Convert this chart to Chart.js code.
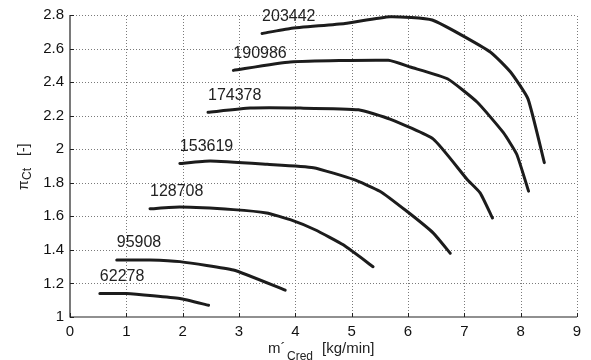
<!DOCTYPE html>
<html><head><meta charset="utf-8">
<script src="https://cdn.jsdelivr.net/npm/chart.js@4"></script>
<style>html,body{margin:0;padding:0;background:#fff}canvas{display:block}</style>
</head><body>
<canvas id="c" width="591" height="360"></canvas>
<script>
const speedLabels = ['203442','190986','174378','153619','128708','95908','62278'];
const m203442 = [3.41,3.91,4.88,5.68,6.43,7.46,7.82,8.13,8.42];
const p203442 = [2.69,2.72,2.75,2.79,2.77,2.58,2.46,2.30,1.92];
const m190986 = [2.90,3.91,5.65,6.04,6.70,7.23,7.69,7.93,8.14];
const p190986 = [2.47,2.52,2.53,2.49,2.42,2.28,2.10,1.97,1.75];
const m174378 = [2.45,3.20,4.09,5.12,5.68,6.45,7.05,7.28,7.50];
const p174378 = [2.22,2.245,2.245,2.235,2.18,2.06,1.82,1.74,1.59];
const m153619 = [1.95,2.49,3.50,4.32,5.03,5.50,5.98,6.45,6.75];
const p153619 = [1.915,1.93,1.91,1.89,1.82,1.75,1.63,1.50,1.38];
const m128708 = [1.42,1.95,2.90,3.49,3.91,4.35,4.85,5.38];
const p128708 = [1.645,1.655,1.64,1.62,1.58,1.52,1.43,1.30];
const m95908 = [0.83,1.42,1.95,2.90,3.82];
const p95908 = [1.34,1.34,1.33,1.28,1.16];
const m62278 = [0.53,1.00,1.95,2.46];
const p62278 = [1.14,1.14,1.11,1.07];
const xTicks = [0,1,2,3,4,5,6,7,8,9];
const yTicks = [1,1.2,1.4,1.6,1.8,2,2.2,2.4,2.6,2.8];

const curves = [[m203442,p203442],[m190986,p190986],[m174378,p174378],[m153619,p153619],[m128708,p128708],[m95908,p95908],[m62278,p62278]];
const datasets = curves.map((c,i)=>({
  label: speedLabels[i],
  data: c[0].map((x,j)=>({x:x,y:c[1][j]})),
  showLine: true, borderColor:'#1c1c1c', borderWidth:3, pointRadius:0, tension:0.15, fill:false,
  borderCapStyle:'round', borderJoinStyle:'round'
}));

const FONT = '"Liberation Sans", Arial, sans-serif';
const overlay = {
  id:'overlay',
  beforeDatasetsDraw(chart){
    const ctx = chart.ctx, xs = chart.scales.x, ys = chart.scales.y, a = chart.chartArea;
    ctx.save();
    ctx.strokeStyle = '#7a7a7a'; ctx.lineWidth = 1; ctx.setLineDash([1,2]);
    xs.ticks.forEach(t=>{ if(t.value===0) return; const px=Math.round(xs.getPixelForValue(t.value))+0.5; ctx.beginPath(); ctx.moveTo(px,a.bottom); ctx.lineTo(px,a.top); ctx.stroke();});
    ys.ticks.forEach(t=>{ if(t.value===1) return; const py=Math.round(ys.getPixelForValue(t.value))+0.5; ctx.beginPath(); ctx.moveTo(a.left,py); ctx.lineTo(a.right,py); ctx.stroke();});
    ctx.restore();
  },
  afterDraw(chart){
    const ctx = chart.ctx, xs = chart.scales.x, ys = chart.scales.y, a = chart.chartArea;
    ctx.save();
    ctx.setLineDash([]);
    // axes lines
    ctx.strokeStyle = '#222'; ctx.lineWidth = 1.2;
    ctx.beginPath(); ctx.moveTo(a.left, a.top); ctx.lineTo(a.left, a.bottom); ctx.lineTo(a.right, a.bottom); ctx.stroke();
    // inward ticks
    ctx.lineWidth = 1;
    xTicks.forEach(v=>{const px=Math.round(xs.getPixelForValue(v))+0.5; ctx.beginPath(); ctx.moveTo(px,a.bottom); ctx.lineTo(px,a.bottom-4); ctx.stroke();});
    yTicks.forEach(v=>{const py=Math.round(ys.getPixelForValue(v))+0.5; ctx.beginPath(); ctx.moveTo(a.left,py); ctx.lineTo(a.left+4,py); ctx.stroke();});
    // curve labels
    ctx.fillStyle = '#222'; ctx.font = '16px '+FONT; ctx.textAlign='left'; ctx.textBaseline='middle';
    chart.data.datasets.forEach((ds,i)=>{
      const p = ds.data[0];
      ctx.fillText(ds.label, xs.getPixelForValue(p.x), ys.getPixelForValue(p.y)-17);
    });
    // x title
    ctx.textBaseline='alphabetic';
    ctx.font = '15px '+FONT; ctx.fillText('m´', 268, 353);
    ctx.font = '12px '+FONT; ctx.fillText('Cred', 287, 360);
    ctx.font = '15px '+FONT; ctx.fillText('[kg/min]', 322, 353);
    // y title
    ctx.translate(28, 190); ctx.rotate(-Math.PI/2);
    ctx.font = '14px '+FONT; ctx.fillText('π', 0, 0);
    ctx.font = '12px '+FONT; ctx.fillText('Ct', 10, 3);
    ctx.font = '14px '+FONT; ctx.fillText('[-]', 34, 0);
    ctx.restore();
  }
};

new Chart(document.getElementById('c'), {
  type:'scatter',
  data:{datasets},
  options:{
    responsive:false, animation:false, devicePixelRatio:1,
    layout:{padding:{top:15,right:14,left:0,bottom:0}},
    plugins:{legend:{display:false}, tooltip:{enabled:false}},
    scales:{
      x:{type:'linear', min:0, max:9,
        afterFit(s){s.height=43;},
        afterBuildTicks(s){s.ticks=xTicks.map(v=>({value:v}));},
        ticks:{color:'#111', font:{family:FONT,size:15}, padding:6, maxRotation:0, callback:v=>String(v)},
        grid:{display:false, drawTicks:false},
        border:{display:false}
      },
      y:{type:'linear', min:1, max:2.8,
        afterFit(s){s.width=70;},
        afterBuildTicks(s){s.ticks=yTicks.map(v=>({value:v}));},
        ticks:{color:'#111', font:{family:FONT,size:15}, padding:6, callback:v=>String(Math.round(v*10)/10)},
        grid:{display:false, drawTicks:false},
        border:{display:false}
      }
    }
  },
  plugins:[overlay]
});
</script>
</body></html>
